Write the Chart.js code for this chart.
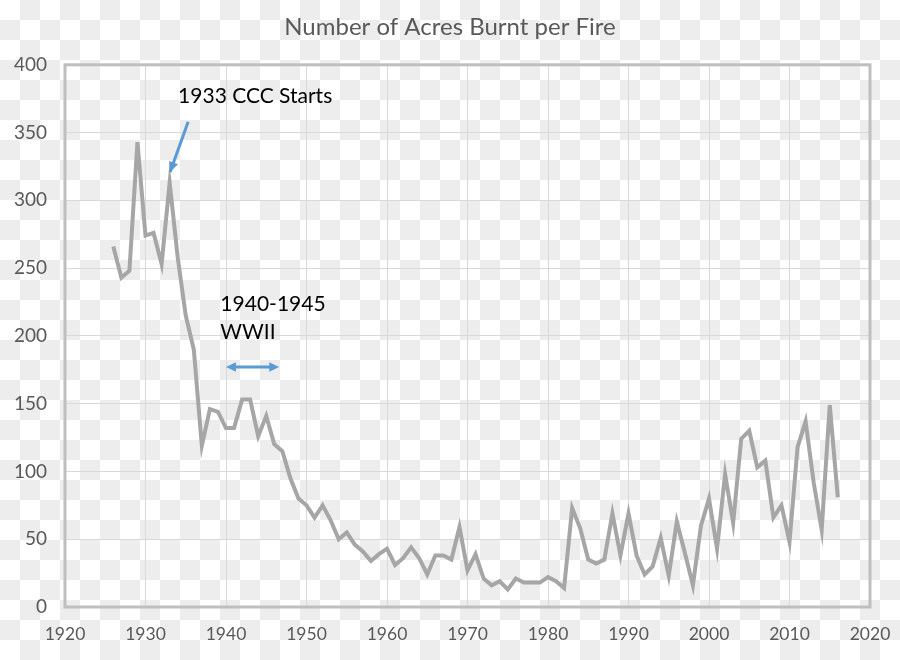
<!DOCTYPE html>
<html>
<head>
<meta charset="utf-8">
<script src="https://cdn.jsdelivr.net/npm/chart.js@4.4.1/dist/chart.umd.min.js"></script>
<style>
  html, body { margin: 0; padding: 0; background: #fff; }
  #wrap { width: 900px; height: 660px; }
</style>
</head>
<body>
<div id="wrap"><canvas id="fireChart"></canvas></div>
<script>
// years and acres per fire
const years = [
  1926, 1927, 1928, 1929, 1930, 1931, 1932, 1933, 1934, 1935,
  1936, 1937, 1938, 1939, 1940, 1941, 1942, 1943, 1944, 1945,
  1946, 1947, 1948, 1949, 1950, 1951, 1952, 1953, 1954, 1955,
  1956, 1957, 1958, 1959, 1960, 1961, 1962, 1963, 1964, 1965,
  1966, 1967, 1968, 1969, 1970, 1971, 1972, 1973, 1974, 1975,
  1976, 1977, 1978, 1979, 1980, 1981, 1982, 1983, 1984, 1985,
  1986, 1987, 1988, 1989, 1990, 1991, 1992, 1993, 1994, 1995,
  1996, 1997, 1998, 1999, 2000, 2001, 2002, 2003, 2004, 2005,
  2006, 2007, 2008, 2009, 2010, 2011, 2012, 2013, 2014, 2015, 2016
];
const acresPerFire = [
  266, 243, 248, 343, 274, 276, 253, 313, 258, 215,
  190, 119, 146, 144, 132, 132, 153, 153, 126, 141,
  120, 115, 95, 80, 75, 66, 75, 64, 50, 55,
  46, 41, 34, 39, 43, 31, 36, 44, 36, 24,
  38, 38, 35, 59, 27, 39, 21, 16, 19, 13,
  21, 18, 18, 18, 22, 19, 14, 73, 58, 35,
  32, 35, 69, 38, 69, 38, 24, 30, 51, 23,
  63, 40, 16, 60, 80, 43, 98, 62, 124, 130,
  103, 108, 66, 75, 48, 118, 137, 92, 57, 149, 81
];
const xTicks = [1920, 1930, 1940, 1950, 1960, 1970, 1980, 1990, 2000, 2010, 2020];
const yTicks = [0, 50, 100, 150, 200, 250, 300, 350, 400];

const FONT = 'Lato, "Open Sans", sans-serif';
const BLUE = '#5b9bd5';

function arrowHead(ctx, x1, y1, x2, y2, size) {
  const a = Math.atan2(y2 - y1, x2 - x1);
  ctx.beginPath();
  ctx.moveTo(x2, y2);
  ctx.lineTo(x2 - size * Math.cos(a - 0.45), y2 - size * Math.sin(a - 0.45));
  ctx.lineTo(x2 - size * Math.cos(a + 0.45), y2 - size * Math.sin(a + 0.45));
  ctx.closePath();
  ctx.fill();
}

// faint checkerboard behind everything, like the source image
const checker = {
  id: 'checker',
  beforeDraw(chart) {
    const { ctx, width, height } = chart;
    ctx.save();
    ctx.fillStyle = '#fff';
    ctx.fillRect(0, 0, width, height);
    ctx.fillStyle = '#ededed';
    for (let r = 0; r * 20 < height; r++) {
      for (let c = 0; c * 20 < width; c++) {
        if ((r + c) % 2 === 1) ctx.fillRect(c * 20, r * 20, 20, 20);
      }
    }
    ctx.restore();
  }
};

// frame + text/arrow callouts, positioned in data units
const notes = {
  id: 'notes',
  afterDatasetsDraw(chart) {
    const { ctx, chartArea: a, scales: { x, y } } = chart;
    ctx.save();
    ctx.strokeStyle = '#bfbfbf';
    ctx.lineWidth = 3;
    ctx.strokeRect(a.left, a.top, a.right - a.left, a.bottom - a.top);

    ctx.fillStyle = '#000';
    ctx.font = '21px ' + FONT;
    ctx.textBaseline = 'middle';
    ctx.textAlign = 'left';
    ctx.fillText('1933 CCC Starts', x.getPixelForValue(1934.05), y.getPixelForValue(377));
    ctx.fillText('1940-1945', x.getPixelForValue(1939.3), y.getPixelForValue(223));
    ctx.fillText('WWII', x.getPixelForValue(1939.3), y.getPixelForValue(203));

    ctx.strokeStyle = BLUE;
    ctx.fillStyle = BLUE;
    ctx.lineWidth = 3;
    // CCC arrow
    let x1 = x.getPixelForValue(1935.3), y1 = y.getPixelForValue(358);
    let x2 = x.getPixelForValue(1933.06), y2 = y.getPixelForValue(321);
    ctx.beginPath(); ctx.moveTo(x1, y1); ctx.lineTo(x2, y2); ctx.stroke();
    arrowHead(ctx, x1, y1, x2, y2, 11);
    // WWII double arrow
    x1 = x.getPixelForValue(1940.0); x2 = x.getPixelForValue(1946.6);
    y1 = y2 = y.getPixelForValue(177);
    ctx.beginPath(); ctx.moveTo(x1 + 5, y1); ctx.lineTo(x2 - 5, y2); ctx.stroke();
    arrowHead(ctx, x2, y2, x1, y1, 11);
    arrowHead(ctx, x1, y1, x2, y2, 11);
    ctx.restore();
  }
};

new Chart(document.getElementById('fireChart'), {
  type: 'line',
  data: {
    datasets: [{
      data: years.map((yr, i) => ({ x: yr, y: acresPerFire[i] })),
      borderColor: '#a6a6a6',
      borderWidth: 4,
      pointRadius: 0,
      tension: 0,
      fill: false
    }]
  },
  options: {
    responsive: true,
    maintainAspectRatio: false,
    animation: false,
    layout: { padding: 0 },
    plugins: {
      legend: { display: false },
      tooltip: { enabled: false },
      title: {
        display: true,
        text: 'Number of Acres Burnt per Fire',
        color: '#595959',
        font: { family: FONT, size: 24, weight: 'normal' },
        padding: { top: 13, bottom: 23 }
      }
    },
    scales: {
      x: {
        type: 'linear',
        min: 1920, max: 2020,
        afterBuildTicks: s => { s.ticks = xTicks.map(v => ({ value: v })); },
        afterFit: s => { s.height = 53; s.paddingLeft = 0; s.paddingRight = 30; },
        grid: { color: '#d9d9d9', lineWidth: 1, drawTicks: false },
        border: { display: false },
        ticks: {
          color: '#595959', padding: 17,
          font: { family: FONT, size: 17.5 },
          callback: v => String(v)
        }
      },
      y: {
        min: 0, max: 400,
        afterBuildTicks: s => { s.ticks = yTicks.map(v => ({ value: v })); },
        afterFit: s => { s.width = 65; },
        grid: { color: '#d9d9d9', lineWidth: 1, drawTicks: false },
        border: { display: false },
        ticks: {
          color: '#595959', padding: 18,
          font: { family: FONT, size: 19 }
        }
      }
    }
  },
  plugins: [checker, notes]
});
</script>
</body>
</html>
